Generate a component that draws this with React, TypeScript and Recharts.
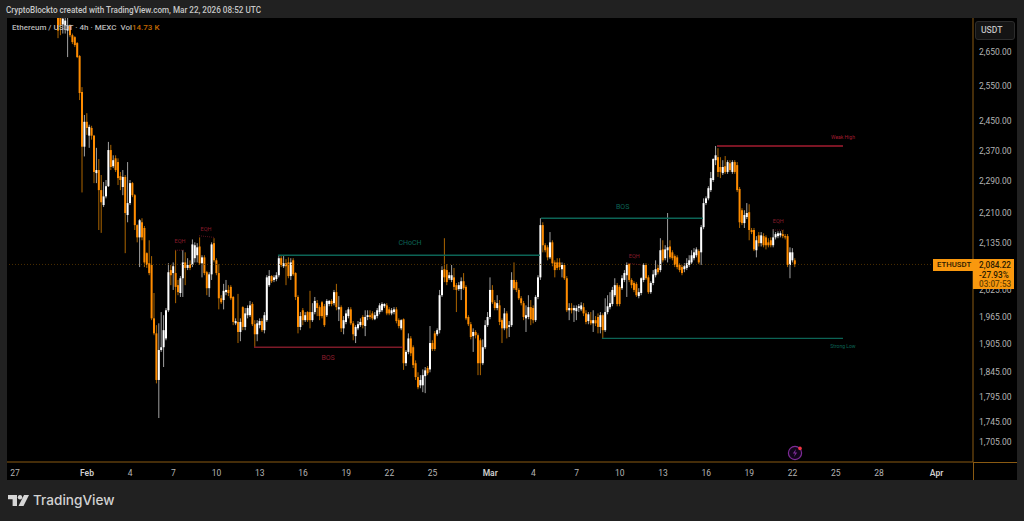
import { Bar, ComposedChart, ReferenceDot, ReferenceLine, XAxis, YAxis } from "recharts";

const UI_FONT = "Roboto, sans-serif";

// 4h candles. The first slot is 3 days after Jan 27.
const FIRST_SLOT = 18;
const SLOTS_PER_DAY = 6;

const opens = [
  2770, 2764, 2734, 2731, 2715, 2731, 2701, 2695, 2677, 2638,
  2533, 2381, 2449, 2411, 2432, 2411, 2311, 2319, 2267, 2229,
  2251, 2277, 2372, 2329, 2350, 2340, 2303, 2275, 2301, 2204,
  2234, 2285, 2254, 2179, 2149, 2186, 2172, 2111, 2087, 2083,
  1961, 1928, 1829, 1892, 1898, 1917, 1979, 2071, 2064, 2064,
  2036, 2018, 2052, 2089, 2076, 2085, 2083, 2099, 2106, 2127,
  2087, 2101, 2066, 2029, 2061, 2135, 2094, 2064, 2006, 2002,
  2020, 2025, 2032, 2009, 1950, 1953, 1931, 1986, 1942, 1968,
  1968, 1993, 1948, 1926, 1946, 1955, 1935, 1957, 2036, 2057,
  2048, 2050, 2059, 2099, 2080, 2087, 2089, 2057, 2094, 2064,
  2009, 1942, 1979, 1957, 1975, 1975, 1957, 1975, 1995, 1986,
  1997, 1988, 1968, 1993, 2000, 1995, 2020, 1981, 1986, 1939,
  1953, 1966, 1981, 1950, 1922, 1939, 1946, 1964, 1944, 1964,
  1968, 1972, 1959, 1966, 1975, 1979, 1988, 1990, 1981, 1972,
  1975, 1981, 1957, 1939, 1959, 1864, 1888, 1917, 1898, 1864,
  1835, 1818, 1818, 1837, 1854, 1851, 1907, 1928, 1926, 1935,
  2013, 2073, 2071, 2052, 2048, 2054, 2036, 2027, 2027, 2045,
  2032, 1964, 1948, 1922, 1931, 1924, 1913, 1864, 1898, 1946,
  1964, 2025, 1997, 1984, 1990, 1957, 1939, 1972, 1942, 1946,
  2048, 2043, 2025, 2006, 1995, 1961, 1964, 1986, 1984, 1957,
  2009, 2054, 2179, 2130, 2125, 2101, 2137, 2089, 2089, 2089,
  2073, 2083, 2052, 1979, 1984, 1979, 1977, 1984, 1981, 1986,
  1972, 1955, 1957, 1950, 1957, 1964, 1942, 1968, 1935, 1975,
  1986, 1993, 2013, 2036, 2032, 2029, 2048, 2059, 2085, 2048,
  2041, 2039, 2011, 2018, 2048, 2083, 2054, 2020, 2041, 2059,
  2076, 2071, 2120, 2099, 2118, 2127, 2113, 2104, 2101, 2083,
  2078, 2073, 2076, 2083, 2089, 2099, 2106, 2116, 2113, 2174,
  2234, 2246, 2267, 2293, 2345, 2353, 2327, 2311, 2329, 2314,
  2337, 2314, 2340, 2332, 2270, 2216, 2184, 2199, 2211, 2167,
  2167, 2118, 2154, 2135, 2152, 2149, 2137, 2142, 2130, 2149,
  2152, 2154, 2157, 2152, 2152, 2083, 2094, 2094,
];

const closes = [
  2715, 2731, 2752, 2746, 2731, 2701, 2680, 2671, 2635, 2530,
  2381, 2449, 2432, 2435, 2411, 2314, 2319, 2267, 2236, 2251,
  2277, 2372, 2327, 2345, 2319, 2298, 2293, 2301, 2209, 2234,
  2285, 2254, 2179, 2149, 2191, 2149, 2089, 2083, 2064, 1961,
  1928, 1829, 1892, 1898, 1935, 1979, 2066, 2059, 2080, 2032,
  2020, 2052, 2089, 2076, 2083, 2076, 2132, 2130, 2125, 2087,
  2101, 2064, 2029, 2061, 2132, 2094, 2064, 2006, 1997, 2023,
  2025, 2018, 2006, 1953, 1955, 1931, 1953, 1942, 1972, 1984,
  1990, 1948, 1926, 1950, 1955, 1935, 1968, 2054, 2057, 2045,
  2054, 2059, 2099, 2083, 2087, 2080, 2057, 2089, 2061, 2009,
  1942, 1966, 1957, 1968, 1957, 1957, 1975, 2000, 1984, 1966,
  1966, 1946, 2000, 2000, 1993, 2020, 1986, 1986, 1939, 1957,
  1972, 1981, 1950, 1926, 1942, 1948, 1953, 1946, 1964, 1968,
  1964, 1961, 1968, 1979, 1990, 1993, 1993, 1972, 1972, 1979,
  1981, 1955, 1944, 1957, 1864, 1888, 1917, 1885, 1860, 1835,
  1814, 1829, 1839, 1849, 1843, 1907, 1894, 1894, 1935, 2013,
  2071, 2054, 2043, 2059, 2059, 2032, 2025, 2036, 2045, 2029,
  1961, 1948, 1920, 1931, 1924, 1864, 1864, 1898, 1946, 1964,
  2025, 1997, 1984, 1995, 1953, 1939, 1972, 1939, 1946, 2048,
  2029, 2025, 2006, 1995, 1964, 1968, 1986, 1959, 1957, 2009,
  2054, 2179, 2130, 2118, 2101, 2137, 2087, 2071, 2076, 2078,
  2083, 2052, 1979, 1984, 1979, 1984, 1984, 1988, 1990, 1972,
  1953, 1970, 1950, 1957, 1950, 1942, 1968, 1935, 1975, 1988,
  1995, 2025, 2036, 1993, 1993, 2052, 2064, 2083, 2048, 2036,
  2025, 2013, 2020, 2052, 2083, 2052, 2020, 2041, 2061, 2073,
  2066, 2118, 2094, 2120, 2125, 2101, 2099, 2083, 2078, 2071,
  2064, 2080, 2087, 2094, 2106, 2113, 2120, 2089, 2174, 2234,
  2246, 2272, 2298, 2348, 2358, 2314, 2314, 2327, 2314, 2340,
  2319, 2340, 2314, 2267, 2186, 2184, 2204, 2209, 2167, 2162,
  2120, 2142, 2135, 2154, 2130, 2130, 2130, 2130, 2149, 2157,
  2159, 2159, 2152, 2149, 2083, 2113, 2113, 2084.22,
];

const highs = [
  2780, 2773, 2767, 2767, 2764, 2734, 2706, 2698, 2680, 2641,
  2547, 2468, 2473, 2441, 2438, 2413, 2378, 2348, 2306, 2288,
  2293, 2394, 2386, 2358, 2358, 2350, 2314, 2319, 2306, 2340,
  2293, 2288, 2257, 2181, 2194, 2196, 2177, 2113, 2142, 2104,
  2018, 1946, 1950, 1975, 1968, 1984, 2087, 2083, 2089, 2118,
  2048, 2057, 2118, 2113, 2099, 2094, 2144, 2137, 2135, 2149,
  2106, 2106, 2069, 2066, 2137, 2147, 2099, 2085, 2013, 2039,
  2048, 2036, 2036, 2011, 1961, 2016, 1961, 1988, 1984, 1990,
  2000, 1997, 1957, 1957, 1961, 1961, 1975, 2059, 2071, 2059,
  2059, 2066, 2106, 2104, 2104, 2097, 2101, 2099, 2099, 2066,
  2013, 1975, 1984, 1975, 1977, 2023, 1995, 2009, 2002, 1990,
  2000, 1993, 2004, 2002, 2004, 2025, 2039, 2011, 1990, 1966,
  1979, 1986, 1986, 1955, 1946, 1955, 1961, 1968, 1979, 1979,
  1979, 1977, 1975, 1984, 1995, 1997, 1995, 1995, 1986, 1984,
  1986, 1986, 1961, 1959, 1961, 1892, 1928, 1922, 1902, 1870,
  1845, 1839, 1851, 1856, 1858, 1944, 1913, 1933, 1939, 2025,
  2080, 2147, 2085, 2066, 2083, 2076, 2041, 2043, 2054, 2064,
  2036, 1968, 1953, 1939, 1935, 1928, 1917, 1915, 1957, 1975,
  2054, 2036, 2002, 2013, 2002, 1961, 1984, 1977, 1955, 2066,
  2089, 2048, 2029, 2011, 2000, 1990, 2013, 2002, 1990, 2013,
  2059, 2196, 2186, 2135, 2130, 2162, 2142, 2094, 2099, 2099,
  2089, 2087, 2057, 1995, 1995, 1990, 1990, 1993, 1997, 1995,
  1979, 1975, 1975, 1979, 1966, 1972, 1975, 1972, 2006, 2013,
  2020, 2032, 2052, 2041, 2036, 2059, 2071, 2089, 2087, 2052,
  2045, 2043, 2029, 2054, 2087, 2087, 2059, 2045, 2071, 2094,
  2083, 2147, 2142, 2130, 2209, 2142, 2118, 2108, 2106, 2087,
  2083, 2087, 2099, 2106, 2118, 2123, 2125, 2120, 2179, 2246,
  2251, 2277, 2314, 2350, 2383, 2377, 2353, 2345, 2356, 2345,
  2345, 2345, 2345, 2340, 2275, 2221, 2216, 2234, 2231, 2172,
  2172, 2152, 2162, 2162, 2159, 2154, 2147, 2149, 2169, 2162,
  2164, 2164, 2167, 2157, 2157, 2125, 2123, 2099,
];

const lows = [
  2692, 2701, 2706, 2706, 2635, 2695, 2674, 2665, 2632, 2510,
  2261, 2355, 2413, 2378, 2400, 2285, 2285, 2167, 2160, 2224,
  2246, 2275, 2319, 2324, 2314, 2280, 2267, 2254, 2111, 2186,
  2229, 2249, 2167, 2137, 2078, 2142, 2078, 2076, 2059, 1957,
  1924, 1822, 1752, 1888, 1856, 1913, 1975, 2036, 2025, 1995,
  2013, 2009, 2009, 2036, 2071, 2071, 2078, 2089, 2089, 2083,
  2054, 2059, 2013, 2009, 2048, 2089, 2059, 1981, 1993, 1981,
  2013, 2011, 2002, 1946, 1946, 1907, 1911, 1935, 1935, 1961,
  1964, 1944, 1898, 1911, 1939, 1931, 1928, 1953, 2032, 2041,
  2043, 2045, 2054, 2078, 2076, 2036, 2052, 2048, 2057, 2002,
  1928, 1935, 1946, 1953, 1953, 1939, 1953, 1970, 1966, 1957,
  1961, 1942, 1964, 1988, 1988, 1990, 1979, 1955, 1931, 1926,
  1948, 1961, 1946, 1913, 1907, 1935, 1942, 1939, 1922, 1957,
  1959, 1957, 1957, 1961, 1970, 1975, 1984, 1968, 1968, 1968,
  1970, 1950, 1939, 1935, 1850, 1858, 1883, 1879, 1854, 1829,
  1810, 1812, 1804, 1802, 1839, 1845, 1890, 1890, 1922, 1928,
  2009, 2043, 2036, 2048, 2043, 2025, 1975, 2023, 2002, 2025,
  1957, 1944, 1915, 1888, 1917, 1839, 1839, 1860, 1894, 1942,
  1959, 1993, 1979, 1979, 1946, 1907, 1935, 1917, 1920, 1942,
  2025, 2020, 2002, 1990, 1957, 1931, 1959, 1946, 1950, 1953,
  2004, 2048, 2113, 2113, 2094, 2097, 2080, 2054, 2071, 2071,
  2054, 2048, 1975, 1957, 1972, 1953, 1957, 1975, 1977, 1966,
  1948, 1948, 1946, 1931, 1944, 1928, 1928, 1917, 1931, 1970,
  1981, 1988, 2009, 1988, 1988, 2025, 2043, 2009, 2043, 2029,
  2020, 2009, 2006, 2013, 2043, 2048, 2016, 2016, 2036, 2054,
  2061, 2066, 2089, 2094, 2089, 2097, 2094, 2078, 2073, 2066,
  2059, 2066, 2071, 2078, 2085, 2094, 2101, 2085, 2083, 2169,
  2229, 2241, 2262, 2288, 2332, 2301, 2298, 2306, 2309, 2309,
  2314, 2309, 2309, 2262, 2172, 2179, 2172, 2194, 2142, 2157,
  2116, 2101, 2127, 2127, 2125, 2120, 2125, 2125, 2125, 2144,
  2147, 2149, 2147, 2144, 2078, 2052, 2089, 2078,
];

// days since Jan 27
const dateTicks = [0, 5, 8, 11, 14, 17, 20, 23, 26, 29, 33, 36, 39, 42, 45, 48, 51, 54, 57, 60, 64];
const dateLabels = ["27", "Feb", "4", "7", "10", "13", "16", "19", "22", "25", "Mar", "4", "7", "10", "13", "16", "19", "22", "25", "28", "Apr"];
const priceTicks = [2650, 2550, 2450, 2370, 2290, 2210, 2135, 2025, 1965, 1905, 1845, 1795, 1745, 1705];
const lastPrice = 2084.22;

const GREEN = "#0c6456";
const RED = "#7d1a28";
const BRIGHT_RED = "#a51c30";

const levels = [
  { from: 18.26, to: 36.46, price: 2106, color: GREEN },
  { from: 36.53, to: 47.78, price: 2196, color: GREEN },
  { from: 16.6, to: 26.94, price: 1898, color: RED },
  { from: 48.75, to: 57.5, price: 2383, color: BRIGHT_RED },
  { from: 40.76, to: 57.5, price: 1917, color: GREEN },
];
const eqhLines = [
  { from: 11.11, to: 11.74, start: 2118, end: 2118 },
  { from: 12.78, to: 13.82, start: 2153, end: 2149 },
  { from: 42.57, to: 43.54, start: 2087, end: 2083 },
  { from: 52.64, to: 53.4, start: 2167, end: 2167 },
];
const notes = [
  { text: "EQH", day: 11.46, price: 2141, color: "#8a1c2c", size: 5.5 },
  { text: "EQH", day: 13.26, price: 2170, color: "#8a1c2c", size: 5.5 },
  { text: "EQH", day: 43, price: 2104, color: "#8a1c2c", size: 5.5 },
  { text: "EQH", day: 53, price: 2189, color: "#8a1c2c", size: 5.5 },
  { text: "CHoCH", day: 27.43, price: 2137, color: GREEN, size: 7 },
  { text: "BOS", day: 42.2, price: 2226, color: GREEN, size: 7 },
  { text: "BOS", day: 21.74, price: 1877, color: "#8a1c2c", size: 7 },
  { text: "Weak High", day: 57.5, price: 2407, color: BRIGHT_RED, size: 5 },
  { text: "Strong Low", day: 57.5, price: 1900, color: GREEN, size: 5 },
];

const candles = opens.map((open, i) => ({
  day: (FIRST_SLOT + i) / SLOTS_PER_DAY,
  open,
  close: closes[i],
  range: [lows[i], highs[i]],
}));

function Candle(props: any) {
  const { x, width, y, height, payload } = props;
  const [low, high] = payload.range;
  const up = payload.close >= payload.open;
  const span = Math.log(high / low);
  // the bar gives pixels for high and low; the body sits between them on the log scale
  const at = (price: number) => y + (Math.log(high / price) / span) * height;
  const top = at(Math.max(payload.open, payload.close));
  const bottom = at(Math.min(payload.open, payload.close));
  const cx = x + width / 2;
  return (
    <g>
      <rect x={cx - 0.5} y={y} width={1} height={height} fill={up ? "#a0a0a0" : "#ac6500"} />
      <rect x={cx - 1} y={top} width={2} height={Math.max(bottom - top, 1)} fill={up ? "#ffffff" : "#ff8c00"} />
    </g>
  );
}

function DateTick(props: any) {
  const { x, y, payload } = props;
  const text = dateLabels[dateTicks.indexOf(payload.value)];
  const isMonth = text.length === 3;
  return (
    <text x={x} y={y + 7} textAnchor="middle" fill={isMonth ? "#cfcfcf" : "#b4b4b4"} fontSize={8.5} fontWeight={isMonth ? 600 : 400} fontFamily={UI_FONT}>
      {text}
    </text>
  );
}

const label = (left: number, top: number, extra: React.CSSProperties = {}): React.CSSProperties => ({
  position: "absolute",
  left,
  top,
  fontFamily: UI_FONT,
  whiteSpace: "nowrap",
  lineHeight: 1,
  ...extra,
});

const AXIS_COLOR = "#8a5a12";

export default function App() {
  return (
    <div style={{ position: "absolute", left: 0, top: 0, width: 1024, height: 521, background: "#212121", overflow: "hidden" }}>
      <div style={{ position: "absolute", left: 7, top: 18, width: 1010, height: 462, background: "#000" }} />
      <div style={{ position: "absolute", left: 0, top: 0 }}>
        <ComposedChart
          width={1024}
          height={521}
          data={candles}
          margin={{ top: 18, right: 7, bottom: 41, left: 7 }}
          barSize={2}
        >
          <XAxis
            dataKey="day"
            type="number"
            scale="linear"
            domain={[-0.556, 66.53]}
            allowDataOverflow
            ticks={dateTicks}
            interval={0}
            tick={<DateTick />}
            tickLine={false}
            tickMargin={1}
            height={18}
            axisLine={{ stroke: AXIS_COLOR, strokeWidth: 1 }}
          />
          <YAxis
            orientation="right"
            scale="log"
            domain={[1667, 2754]}
            allowDataOverflow
            ticks={priceTicks}
            interval={0}
            width={44}
            tickFormatter={(v: number) => v.toLocaleString("en-US", { minimumFractionDigits: 2 })}
            tick={{ fill: "#b4b4b4", fontSize: 8.5, fontFamily: UI_FONT }}
            tickLine={false}
            tickSize={0}
            tickMargin={6}
            axisLine={{ stroke: AXIS_COLOR, strokeWidth: 1 }}
          />
          <ReferenceLine y={lastPrice} stroke="#5e3a00" strokeDasharray="1 2" strokeWidth={0.8} />
          <Bar dataKey="range" shape={<Candle />} isAnimationActive={false} />
          {levels.map((l, i) => (
            <ReferenceLine
              key={`level-${i}`}
              segment={[{ x: l.from, y: l.price }, { x: l.to, y: l.price }]}
              stroke={l.color}
              strokeWidth={1.4}
            />
          ))}
          {eqhLines.map((l, i) => (
            <ReferenceLine
              key={`eqh-${i}`}
              segment={[{ x: l.from, y: l.start }, { x: l.to, y: l.end }]}
              stroke={RED}
              strokeWidth={0.7}
              strokeDasharray="1 1"
            />
          ))}
          {notes.map((n, i) => (
            <ReferenceDot
              key={`note-${i}`}
              x={n.day}
              y={n.price}
              r={0}
              stroke="none"
              label={{ value: n.text, fill: n.color, fontSize: n.size, fontFamily: UI_FONT, position: "center" }}
            />
          ))}
        </ComposedChart>
      </div>

      {/* axis lines run past the plot corner */}
      <div style={{ position: "absolute", left: 973, top: 462, width: 44, height: 1, background: AXIS_COLOR }} />
      <div style={{ position: "absolute", left: 973, top: 462, width: 1, height: 18, background: AXIS_COLOR }} />

      {/* header and legend */}
      <div style={label(6, 5.5, { fontSize: 8.15, color: "#c8c8c8", fontWeight: 500 })}>
        CryptoBlockto created with TradingView.com, Mar 22, 2026 08:52 UTC
      </div>
      <div style={label(12, 24, { fontSize: 8, color: "#b8b8b8", fontWeight: 500 })}>
        Ethereum / USDT · 4h · MEXC&nbsp; Vol<span style={{ color: "#c46a00" }}>14.73 K</span>
      </div>

      {/* price scale pieces */}
      <div style={{ position: "absolute", left: 975, top: 21, width: 38, height: 17, background: "#141414", border: "1px solid #2c2c2c", borderRadius: 3 }} />
      <div style={label(981, 26, { fontSize: 8.6, color: "#c0c0c0", fontWeight: 500 })}>USDT</div>

      <div style={{ position: "absolute", left: 933, top: 259, width: 40, height: 12, background: "#f9980e" }} />
      <div style={{ position: "absolute", left: 973, top: 259, width: 41, height: 30, background: "#f9980e" }} />
      <div style={label(937, 261, { fontSize: 7.8, color: "#2a1a00", fontWeight: 500 })}>ETHUSDT</div>
      <div style={label(979, 261, { fontSize: 8.2, color: "#2a1a00", fontWeight: 500 })}>2,084.22</div>
      <div style={label(979, 270.5, { fontSize: 8.2, color: "#2a1a00", fontWeight: 500 })}>-27.93%</div>
      <div style={label(979, 279.5, { fontSize: 8.2, color: "#6a4300", fontWeight: 500 })}>03:07:53</div>

      {/* lightning marker */}
      <svg style={{ position: "absolute", left: 786, top: 444 }} width={18} height={18}>
        <circle cx={9} cy={9} r={6.6} fill="#12051a" stroke="#7d2b96" strokeWidth={1.2} />
        <path d="M10 5 L6.8 9.6 H9 L8 13 L11.2 8.4 H9 Z" fill="#7d2b96" />
        <circle cx={14} cy={4.4} r={1.8} fill="#f23645" />
      </svg>

      {/* TradingView logo */}
      <svg style={{ position: "absolute", left: 8, top: 495 }} width={21} height={12} viewBox="0 0 21 12">
        <path d="M0 0 H9 V11 H4.6 V4.2 H0 Z" fill="#d6d6d6" />
        <circle cx={12} cy={2.2} r={2.2} fill="#d6d6d6" />
        <path d="M16 0 H21 L15.5 11 H10.5 Z" fill="#d6d6d6" />
      </svg>
      <div style={label(33, 494, { fontSize: 13.6, color: "#d2d2d2", fontWeight: 500, fontFamily: "Inter, sans-serif" })}>TradingView</div>
    </div>
  );
}
